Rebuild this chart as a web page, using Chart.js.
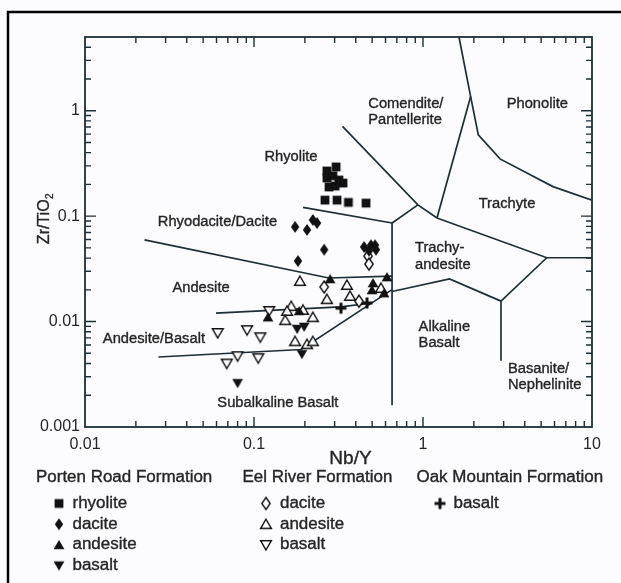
<!DOCTYPE html>
<html>
<head>
<meta charset="utf-8">
<script src="https://cdn.jsdelivr.net/npm/chart.js@4.4.1/dist/chart.umd.min.js"></script>
<style>
  html, body { margin: 0; padding: 0; background: #fcfcfe; }
  canvas { display: block; }
</style>
</head>
<body>
<canvas id="chart" width="621" height="583"></canvas>
<script>
// Samples: [Nb/Y, Zr/TiO2]
const portenRhyolite = [
  [0.270, 0.268], [0.306, 0.293], [0.270, 0.230], [0.293, 0.241], [0.318, 0.220], [0.336, 0.206],
  [0.278, 0.189], [0.302, 0.193], [0.263, 0.142], [0.310, 0.142], [0.362, 0.135], [0.460, 0.133]
];
const portenDacite = [
  [0.175, 0.079], [0.206, 0.074], [0.223, 0.092], [0.236, 0.086], [0.260, 0.048], [0.182, 0.0375],
  [0.448, 0.051], [0.479, 0.047], [0.492, 0.053], [0.520, 0.053], [0.527, 0.048]
];
const portenAndesite = [
  [0.282, 0.0253], [0.612, 0.0264], [0.506, 0.0232], [0.499, 0.0199], [0.588, 0.0186],
  [0.121, 0.0110], [0.185, 0.0126]
];
const portenBasalt = [[0.180, 0.0085], [0.198, 0.0089], [0.192, 0.0049], [0.080, 0.0026]];
const eelDacite = [[0.473, 0.0418], [0.479, 0.0351], [0.260, 0.0213], [0.418, 0.0156]];
const eelAndesite = [
  [0.187, 0.0242], [0.355, 0.0222], [0.270, 0.0163], [0.370, 0.0175], [0.564, 0.0208],
  [0.166, 0.0140], [0.157, 0.0126], [0.195, 0.0129], [0.223, 0.0110], [0.153, 0.0103],
  [0.175, 0.0065], [0.206, 0.0061], [0.223, 0.0065]
];
const eelBasalt = [
  [0.061, 0.0078], [0.091, 0.0083], [0.109, 0.0071], [0.069, 0.0040], [0.080, 0.0047],
  [0.106, 0.0045], [0.123, 0.0126]
];
const oakBasalt = [[0.327, 0.0134], [0.466, 0.0150]];

// Field boundaries (Winchester & Floyd, 1977), [Nb/Y, Zr/TiO2]
const rhyoliteComenditeLine = [[0.334, 0.711], [0.933, 0.128], [1.21, 0.096]];
const rhyoliteRhyodaciteLine = [[0.195, 0.121], [0.656, 0.0861]];
const trachyandesiteTopLine = [[0.656, 0.0861], [0.933, 0.128]];
const subalkalineLimitLine = [[0.656, 0.0861], [0.656, 0.00161]];
const rhyodaciteAndesiteLine = [[0.0225, 0.0596], [0.277, 0.0259], [0.656, 0.0270]];
const andesiteBasaltLine = [[0.0596, 0.0120], [0.325, 0.0138], [0.499, 0.0150]];
const subalkalineBasaltLine = [[0.0272, 0.00461], [0.190, 0.00543], [0.656, 0.0201]];
const alkalineBasaltTopLine = [[0.656, 0.0193], [1.435, 0.0254], [2.894, 0.01563]];
const basaniteLine = [[2.894, 0.01563], [2.894, 0.00426]];
const trachyteBaseLine = [[1.21, 0.096], [5.40, 0.0403], [10, 0.0403]];
const trachyandesiteRightLine = [[5.40, 0.0403], [2.894, 0.01563]];
const trachyteComenditeLine = [[1.21, 0.096], [1.914, 1.361]];
const phonoliteLine = [[1.633, 5], [1.914, 1.361], [2.124, 0.589], [2.857, 0.349], [5.87, 0.1905], [10, 0.142]];

// Axis ticks
const xTickValues = [0.01, 0.1, 1, 10];
const xTickLabels = ['0.01', '0.1', '1', '10'];
const yTickValues = [0.001, 0.01, 0.1, 1];
const yTickLabels = ['0.001', '0.01', '0.1', '1'];

// Field names, anchored in data space
const fieldNames = [
  ['Comendite/', 0.4745, 1.158, 'left'],
  ['Pantellerite', 0.4745, 0.818, 'left'],
  ['Phonolite', 4.75, 1.158, 'center'],
  ['Rhyolite', 0.1655, 0.365, 'center'],
  ['Trachyte', 3.14, 0.129, 'center'],
  ['Rhyodacite/Dacite', 0.0608, 0.0870, 'center'],
  ['Trachy-', 0.897, 0.0495, 'left'],
  ['andesite', 0.897, 0.0346, 'left'],
  ['Andesite', 0.0486, 0.02074, 'center'],
  ['Andesite/Basalt', 0.02557, 0.00676, 'center'],
  ['Alkaline', 0.942, 0.00884, 'left'],
  ['Basalt', 0.942, 0.00627, 'left'],
  ['Basanite/', 3.18, 0.00353, 'left'],
  ['Nephelinite', 3.18, 0.0025, 'left'],
  ['Subalkaline Basalt', 0.1383, 0.0017, 'center']
];

const FONT = '"Liberation Sans", Arial, Helvetica, sans-serif';
const INK = '#111111';
const LINE = '#1f2e36';
const TEXT = '#262626';

// Marker glyphs used both on the plot and in the key
function makeMarker(kind) {
  const c = document.createElement('canvas');
  c.width = 16; c.height = 16;
  const g = c.getContext('2d');
  const m = 8;
  g.fillStyle = INK; g.strokeStyle = INK; g.lineWidth = 1.4; g.lineJoin = 'miter';
  g.beginPath();
  const open = kind.endsWith('Open');
  const shape = kind.replace('Open', '');
  if (shape === 'square') {
    g.rect(m - 4.4, m - 4.4, 8.8, 8.8);
  } else if (shape === 'diamond') {
    g.moveTo(m, m - 6); g.lineTo(m + 4.2, m); g.lineTo(m, m + 6); g.lineTo(m - 4.2, m); g.closePath();
  } else if (shape === 'up') {
    g.moveTo(m, m - 5); g.lineTo(m + 5.4, m + 4.3); g.lineTo(m - 5.4, m + 4.3); g.closePath();
  } else if (shape === 'down') {
    g.moveTo(m, m + 5); g.lineTo(m + 5.4, m - 4.3); g.lineTo(m - 5.4, m - 4.3); g.closePath();
  } else if (shape === 'plus') {
    g.lineWidth = 3;
    g.moveTo(m - 5.5, m); g.lineTo(m + 5.5, m);
    g.moveTo(m, m - 5.5); g.lineTo(m, m + 5.5);
    g.stroke();
    return c;
  }
  if (open) {
    g.fillStyle = '#ffffff'; g.fill(); g.stroke();
  } else {
    g.fill();
  }
  return c;
}

const toXY = arr => arr.map(([x, y]) => ({ x, y }));

function pointSet(label, group, data, kind) {
  return {
    label, group, kind,
    data: toXY(data),
    pointStyle: makeMarker(kind),
    pointRadius: 6,
    showLine: false,
    order: 1
  };
}

function boundary(data) {
  return {
    label: '',
    data: toXY(data),
    showLine: true,
    pointRadius: 0,
    borderColor: LINE,
    borderWidth: 1.7,
    fill: false,
    tension: 0,
    order: 2
  };
}

const datasets = [
  pointSet('rhyolite', 'Porten Road Formation', portenRhyolite, 'square'),
  pointSet('dacite', 'Porten Road Formation', portenDacite, 'diamond'),
  pointSet('andesite', 'Porten Road Formation', portenAndesite, 'up'),
  pointSet('basalt', 'Porten Road Formation', portenBasalt, 'down'),
  pointSet('dacite', 'Eel River Formation', eelDacite, 'diamondOpen'),
  pointSet('andesite', 'Eel River Formation', eelAndesite, 'upOpen'),
  pointSet('basalt', 'Eel River Formation', eelBasalt, 'downOpen'),
  pointSet('basalt', 'Oak Mountain Formation', oakBasalt, 'plus'),
  boundary(rhyoliteComenditeLine),
  boundary(rhyoliteRhyodaciteLine),
  boundary(trachyandesiteTopLine),
  boundary(subalkalineLimitLine),
  boundary(rhyodaciteAndesiteLine),
  boundary(andesiteBasaltLine),
  boundary(subalkalineBasaltLine),
  boundary(alkalineBasaltTopLine),
  boundary(basaniteLine),
  boundary(trachyteBaseLine),
  boundary(trachyandesiteRightLine),
  boundary(trachyteComenditeLine),
  boundary(phonoliteLine)
];

// Slightly widened, slightly heavier text
function wideText(ctx, text, x, y, align, sx) {
  ctx.save();
  ctx.translate(x, y);
  ctx.scale(sx, 1);
  ctx.textAlign = align;
  ctx.fillText(text, 0, 0);
  ctx.lineWidth = 0.35;
  ctx.strokeStyle = ctx.fillStyle;
  ctx.strokeText(text, 0, 0);
  ctx.restore();
}

// Page frame and background
const backdrop = {
  id: 'backdrop',
  beforeDraw(chart) {
    const ctx = chart.ctx;
    ctx.save();
    ctx.fillStyle = '#fcfcfe';
    ctx.fillRect(0, 0, chart.width, chart.height);
    ctx.strokeStyle = '#000';
    ctx.lineWidth = 2.5;
    ctx.beginPath();
    ctx.moveTo(8, chart.height);
    ctx.lineTo(8, 12);
    ctx.lineTo(chart.width, 12);
    ctx.stroke();
    ctx.restore();
  }
};

// Plot box with inward major/minor log ticks on all four sides
const frameTicks = {
  id: 'frameTicks',
  afterDatasetsDraw(chart) {
    const { ctx, chartArea: a, scales: { x, y } } = chart;
    ctx.save();
    ctx.strokeStyle = LINE;
    ctx.lineWidth = 1.8;
    ctx.strokeRect(a.left, a.top, a.right - a.left, a.bottom - a.top);
    ctx.lineWidth = 1.4;
    ctx.beginPath();
    for (const d of xTickValues) {
      for (let k = 1; k <= 9; k++) {
        const v = d * k;
        if (v <= x.min || v >= x.max) continue;
        const px = x.getPixelForValue(v);
        const len = k === 1 ? 10 : 6;
        ctx.moveTo(px, a.bottom); ctx.lineTo(px, a.bottom - len);
        ctx.moveTo(px, a.top); ctx.lineTo(px, a.top + len);
      }
    }
    for (const d of yTickValues) {
      for (let k = 1; k <= 9; k++) {
        const v = d * k;
        if (v <= y.min || v >= y.max) continue;
        const py = y.getPixelForValue(v);
        const len = k === 1 ? 11 : 6;
        ctx.moveTo(a.left, py); ctx.lineTo(a.left + len, py);
        ctx.moveTo(a.right, py); ctx.lineTo(a.right - len, py);
      }
    }
    ctx.stroke();
    ctx.restore();
  }
};

// Field names, axis titles and the formation key
const annotations = {
  id: 'annotations',
  afterDraw(chart) {
    const { ctx, scales: { x, y } } = chart;
    ctx.save();
    ctx.fillStyle = TEXT;
    ctx.textBaseline = 'middle';

    ctx.font = '14px ' + FONT;
    for (const [name, nx, ny, align] of fieldNames) {
      wideText(ctx, name, x.getPixelForValue(nx), y.getPixelForValue(ny), align, 1.05);
    }

    // x title
    ctx.font = '18px ' + FONT;
    wideText(ctx, 'Nb/Y', 350.5, 459.5, 'center', 1.06);

    // y title with subscript
    ctx.save();
    ctx.translate(45, 219);
    ctx.rotate(-Math.PI / 2);
    ctx.font = '16px ' + FONT;
    const main = 'Zr/TiO';
    const wMain = ctx.measureText(main).width;
    ctx.font = '10px ' + FONT;
    const wSub = ctx.measureText('2').width;
    const x0 = -(wMain + wSub) / 2;
    ctx.font = '16px ' + FONT;
    wideText(ctx, main, x0, 0, 'left', 1);
    ctx.font = '10px ' + FONT;
    wideText(ctx, '2', x0 + wMain + 0.5, 5, 'left', 1);
    ctx.restore();

    // key
    const groups = ['Porten Road Formation', 'Eel River Formation', 'Oak Mountain Formation'];
    const headLeft = [36, 242.5, 416.5];
    const markX = [59, 266, 440];
    const textLeft = [72.5, 280, 453.5];
    const headY = 478;
    const rowY0 = 503.5, rowStep = 20.7;
    ctx.font = '16px ' + FONT;
    groups.forEach((gname, gi) => {
      ctx.fillStyle = TEXT;
      wideText(ctx, gname, headLeft[gi], headY, 'left', 1.06);
      const members = chart.data.datasets.filter(ds => ds.group === gname);
      members.forEach((ds, ri) => {
        const ry = rowY0 + ri * rowStep;
        const img = ds.pointStyle;
        ctx.drawImage(img, markX[gi] - img.width / 2, ry - img.height / 2);
        wideText(ctx, ds.label, textLeft[gi], ry, 'left', 1.06);
      });
    });
    ctx.restore();
  }
};

new Chart(document.getElementById('chart'), {
  type: 'scatter',
  data: { datasets },
  options: {
    responsive: false,
    devicePixelRatio: 1,
    animation: false,
    events: [],
    layout: { padding: { top: 37, right: 29, left: 0, bottom: 0 } },
    plugins: { legend: { display: false }, tooltip: { enabled: false } },
    scales: {
      x: {
        type: 'logarithmic',
        min: 0.01, max: 10,
        afterBuildTicks: s => { s.ticks = xTickValues.map(v => ({ value: v })); },
        afterFit: s => { s.height = 156; },
        ticks: {
          callback: (v, i) => xTickLabels[i],
          font: { family: FONT, size: 16 },
          color: TEXT,
          padding: 8,
          maxRotation: 0,
          autoSkip: false
        },
        grid: { display: false, drawTicks: false },
        border: { display: false }
      },
      y: {
        type: 'logarithmic',
        min: 0.001, max: 5,
        afterBuildTicks: s => { s.ticks = yTickValues.map(v => ({ value: v })); },
        afterFit: s => { s.width = 85; },
        ticks: {
          callback: (v, i) => yTickLabels[i],
          font: { family: FONT, size: 16 },
          color: TEXT,
          padding: 5,
          autoSkip: false
        },
        grid: { display: false, drawTicks: false },
        border: { display: false }
      }
    }
  },
  plugins: [backdrop, frameTicks, annotations]
});
</script>
</body>
</html>
